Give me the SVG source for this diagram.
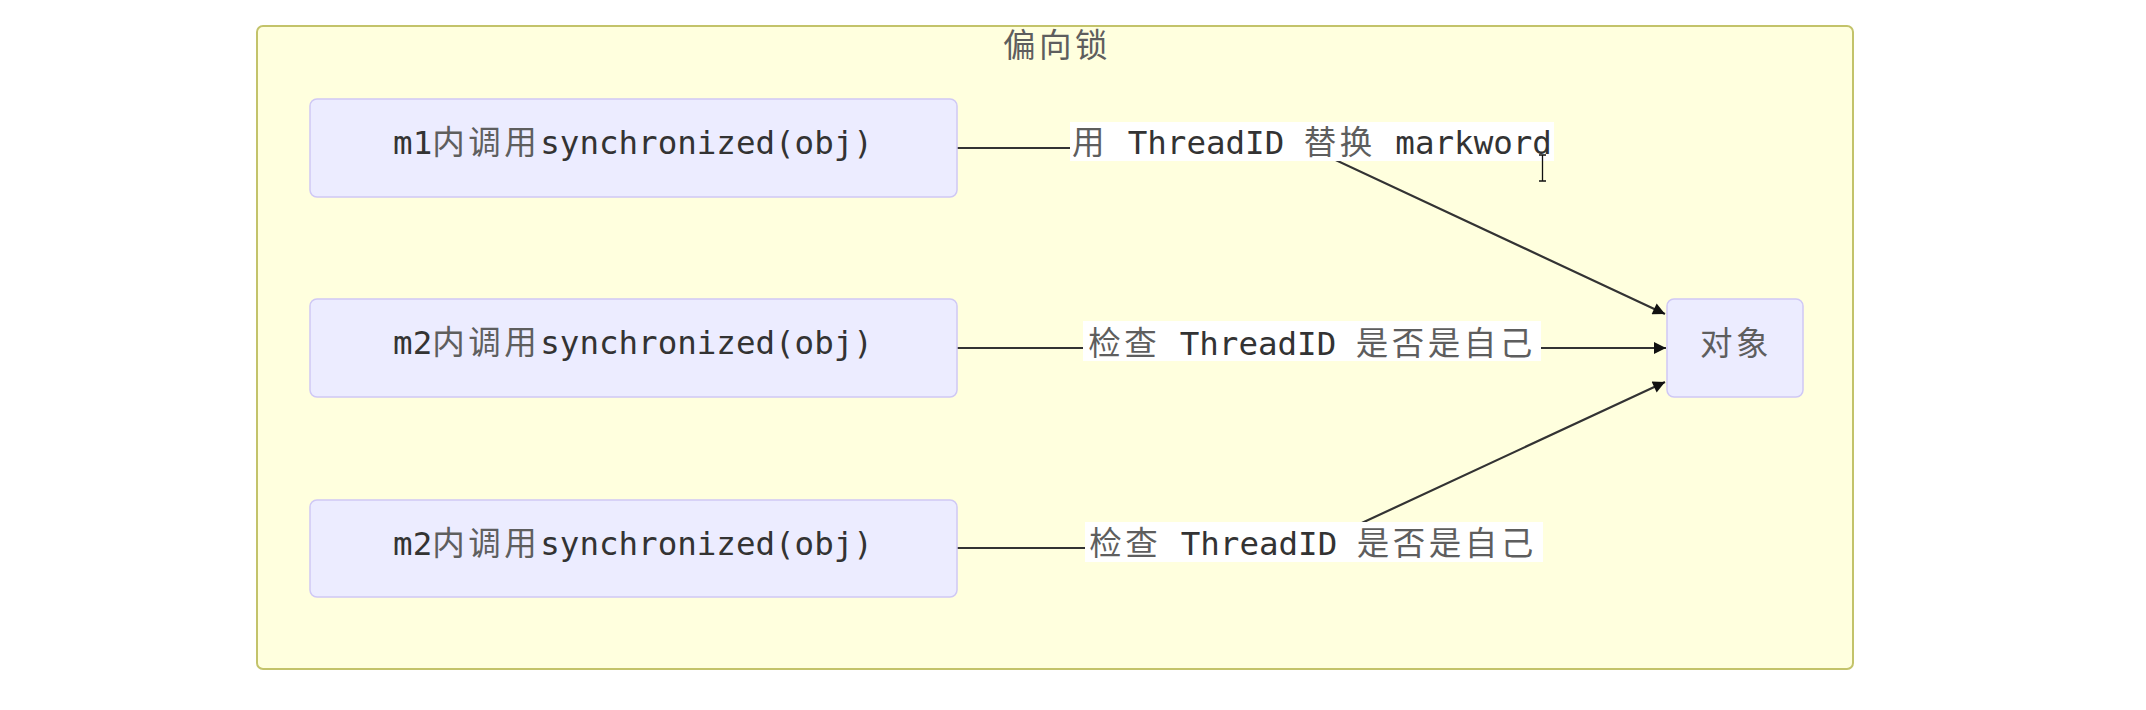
<svg xmlns="http://www.w3.org/2000/svg" width="2146" height="710" viewBox="0 0 2146 710">
  <style>
    .cluster { fill: #ffffde; stroke: #c3c36a; stroke-width: 2; }
    .node { fill: #ececff; stroke: #cfc8f5; stroke-width: 1.5; }
    .edge { fill: none; stroke: #333333; stroke-width: 2.2; }
    .lblbg { fill: #ffffff; }
    text { font-family: "DejaVu Sans Mono", "Noto Sans CJK SC", monospace; font-size: 32.5px; fill: #333333; }
    .cjk { fill: #5e5e5e; letter-spacing: 3.5px; }
    .title { fill: #5e5e5e; letter-spacing: 3.5px; }
  </style>
  <defs>
    <marker id="arrow" viewBox="0 0 10 10" refX="10" refY="5" markerUnits="userSpaceOnUse" markerWidth="13" markerHeight="12" orient="auto">
      <path d="M0,0 L10,5 L0,10 z" fill="#111111"/>
    </marker>
  </defs>
  <rect width="2146" height="710" fill="#ffffff"/>

  <g id="cluster-bias-lock">
    <rect class="cluster" x="257" y="26" width="1596" height="643" rx="6" ry="6"/>
    <text class="title" x="1057" y="57" text-anchor="middle">偏向锁</text>
  </g>

  <g id="connectors">
    <polyline class="edge" points="957,148 1310,148 1665,314" marker-end="url(#arrow)"/>
    <polyline class="edge" points="957,348 1666,348" marker-end="url(#arrow)"/>
    <polyline class="edge" points="957,548 1308,548 1665,382" marker-end="url(#arrow)"/>
  </g>

  <g id="edge-labels">
    <g id="label-1">
      <rect class="lblbg" x="1070" y="122" width="484" height="39"/>
      <text x="1312" y="154" text-anchor="middle"><tspan class="cjk">用</tspan> ThreadID <tspan class="cjk">替换</tspan> markword</text>
    </g>
    <g id="label-2">
      <rect class="lblbg" x="1083" y="321" width="458" height="40"/>
      <text x="1312" y="355" text-anchor="middle"><tspan class="cjk">检查</tspan> ThreadID <tspan class="cjk">是否是自己</tspan></text>
    </g>
    <g id="label-3">
      <rect class="lblbg" x="1085" y="522" width="458" height="40"/>
      <text x="1313" y="555" text-anchor="middle"><tspan class="cjk">检查</tspan> ThreadID <tspan class="cjk">是否是自己</tspan></text>
    </g>
  </g>

  <g id="node-m1">
    <rect class="node" x="310" y="99" width="647" height="98" rx="7" ry="7"/>
    <text x="633" y="154" text-anchor="middle">m1<tspan class="cjk">内调用</tspan>synchronized(obj)</text>
  </g>
  <g id="node-m2a">
    <rect class="node" x="310" y="299" width="647" height="98" rx="7" ry="7"/>
    <text x="633" y="354" text-anchor="middle">m2<tspan class="cjk">内调用</tspan>synchronized(obj)</text>
  </g>
  <g id="node-m2b">
    <rect class="node" x="310" y="500" width="647" height="97" rx="7" ry="7"/>
    <text x="633" y="555" text-anchor="middle">m2<tspan class="cjk">内调用</tspan>synchronized(obj)</text>
  </g>
  <g id="node-object">
    <rect class="node" x="1667" y="299" width="136" height="98" rx="7" ry="7"/>
    <text class="cjk" x="1736" y="355" text-anchor="middle">对象</text>
  </g>

  <g id="cursor">
    <path d="M1539,155 L1546,155 M1542.5,155 L1542.5,181 M1539,181 L1546,181" fill="none" stroke="#111111" stroke-width="1.3"/>
  </g>
</svg>
